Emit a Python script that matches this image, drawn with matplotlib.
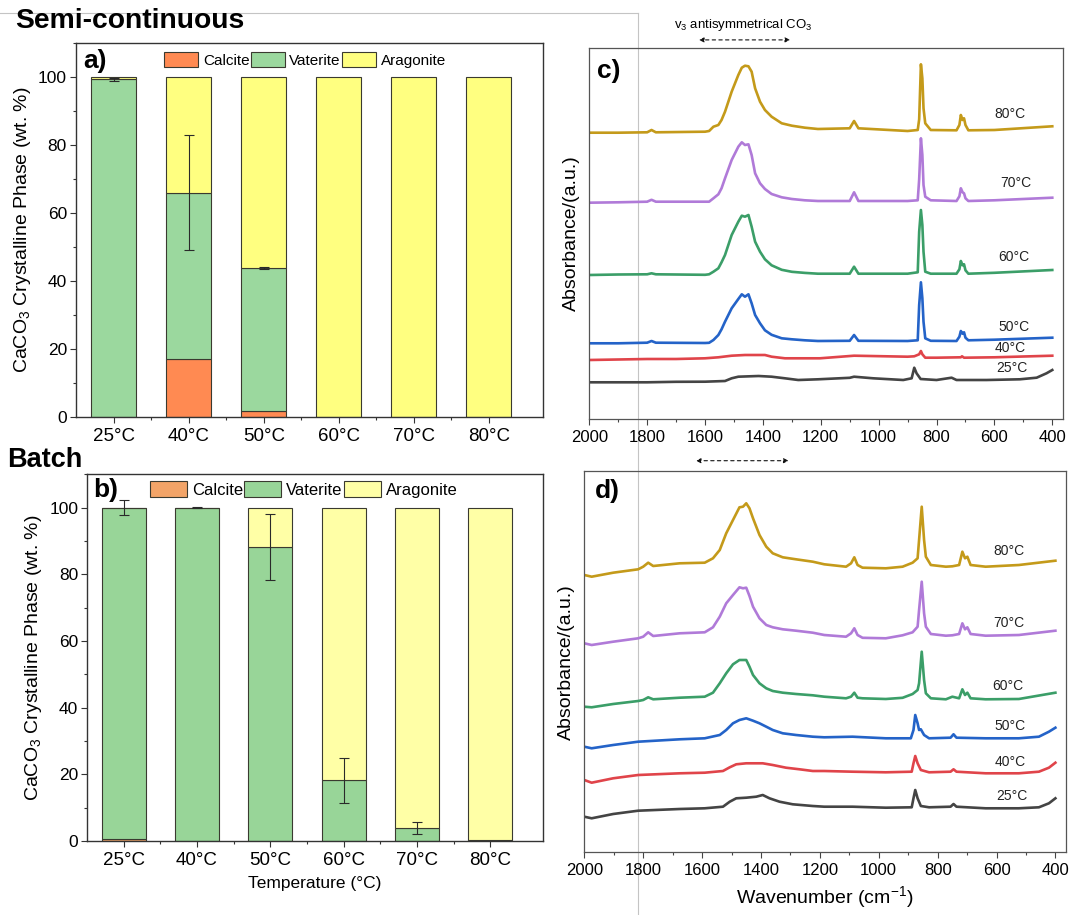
import matplotlib
matplotlib.use("Agg")
import matplotlib.pyplot as plt
from matplotlib.lines import Line2D
from matplotlib.patches import Patch
from matplotlib.ticker import MultipleLocator, FixedLocator

plt.rcParams['font.family'] = ['Liberation Sans', 'DejaVu Sans']
plt.rcParams['mathtext.default'] = 'regular'

# ---- bar data (wt. %) ----
temps = ['25°C', '40°C', '50°C', '60°C', '70°C', '80°C']
phases = ['Calcite', 'Vaterite', 'Aragonite']

semi_calcite = [0, 17, 1.8, 0, 0, 0]
semi_vaterite = [99.4, 49, 42, 0, 0, 0]
semi_aragonite = [0.6, 34, 56.2, 100, 100, 100]
semi_err = [0.5, 17, 0.3, 0, 0, 0]

batch_calcite = [0.5, 0, 0, 0, 0, 0]
batch_vaterite = [99.5, 100, 88.2, 18.2, 4, 0.3]
batch_aragonite = [0, 0, 11.8, 81.8, 96, 99.7]
batch_err = [2.3, 0.2, 10, 6.8, 1.8, 0]

# ---- FTIR spectra, semi-continuous (c) ----
wn_c_hi = [2000, 1900, 1800, 1785, 1770, 1600, 1586, 1571, 1554, 1543, 1531,
           1508, 1485, 1473, 1462, 1450, 1439, 1427, 1410, 1393, 1370, 1335,
           1300, 1255, 1210, 1100, 1085, 1070, 900, 865, 860, 854, 849, 845,
           839, 820, 731, 721, 716, 710, 705, 700, 690, 600, 400]
ab_c50 = [76, 76, 76.6, 78.3, 76.6, 76.3, 76.5, 79.3, 84.3, 90, 97.6, 111,
          120.3, 125, 122.6, 125, 116, 104.3, 96, 89, 84.5, 81, 80, 79, 78.3,
          78.5, 84.3, 78.5, 78.3, 79, 114.3, 137, 121, 97.6, 81, 78.5, 78.3,
          82.6, 88.3, 85.6, 87, 81.6, 79, 79.6, 81.6]
ab_c60 = [144.3, 144.8, 145, 146, 145, 144.5, 145, 147.6, 151, 157, 164.3,
          184.3, 197.6, 203.6, 202.6, 204.3, 192.6, 177.6, 167.6, 160, 154,
          149.5, 147.5, 146.4, 145.6, 145.6, 152.6, 145.6, 145.6, 147, 187.6,
          209.3, 194.3, 167.6, 147.6, 145.6, 145.6, 150, 158.3, 154, 155, 149,
          145.6, 146.5, 149.3]
ab_c70 = [216.6, 217, 217.6, 219.5, 217.6, 217.6, 217.6, 221, 225, 231, 241,
          259.3, 272.6, 277, 274.3, 275, 264.3, 246, 236, 230.3, 225.3, 222,
          220.3, 219, 218.3, 218.3, 227, 218.3, 218.3, 219, 240, 281, 264.3,
          234.3, 222.6, 219, 218.3, 223, 231, 227, 226, 221, 218.3, 219, 221.6]
ab_c80 = [286.6, 286.6, 287, 289.3, 287, 287.6, 288.3, 292.6, 294.3, 299.3,
          307.6, 327.6, 344.3, 351.6, 353.6, 353, 347.6, 331, 317.6, 309.3,
          302.6, 296, 293.6, 291.6, 290.3, 291, 298.3, 291, 288.3, 289.3, 300,
          355, 341, 311, 296, 289.3, 289, 294.3, 304.3, 299.3, 301, 294.3, 289,
          289.3, 293]
wn_c25 = [2000, 1900, 1800, 1700, 1600, 1531, 1508, 1485, 1415, 1370, 1324,
          1278, 1209, 1100, 1085, 1019, 915, 886, 877, 869, 855, 800, 748, 731,
          627, 512, 454, 420, 400]
ab_c25 = [37, 37, 37, 37.5, 37.6, 38.3, 41, 42.6, 43.3, 42.6, 41, 39.3, 40,
          41.5, 42.6, 41, 39.3, 41, 51.6, 46, 40.3, 39.3, 41.6, 39.3, 39.3, 40,
          41.6, 46, 49.3]
wn_c40 = [2000, 1800, 1700, 1600, 1554, 1508, 1462, 1393, 1370, 1324, 1266,
          1203, 1085, 900, 877, 860, 854, 849, 839, 800, 716, 712, 705, 600, 400]
ab_c40 = [59.3, 60.3, 60.3, 61, 62, 63.6, 64.3, 64.3, 62.6, 61, 61, 61, 63.6,
          62.6, 63, 65, 68.3, 65, 61.6, 61.6, 62, 63, 61.6, 62, 63.6]

# ---- FTIR spectra, batch (d) ----
wn_d_hi = [2000, 1975, 1902, 1817, 1800, 1783, 1766, 1676, 1591, 1563, 1540,
           1518, 1495, 1473, 1461, 1450, 1439, 1427, 1405, 1382, 1360, 1326,
           1281, 1224, 1185, 1111, 1094, 1083, 1072, 1055, 976, 919, 885, 868,
           863, 854, 846, 840, 823, 772, 750, 727, 716, 707, 699, 688, 637, 524,
           400]
ab_d60 = [145.6, 145, 148.3, 151.3, 152.3, 155, 153, 154.6, 155.6, 159.6, 169,
          179, 188, 192.3, 192.3, 192.3, 185.6, 177.3, 169, 164, 161.3, 159.6,
          158.3, 157, 155.6, 154, 155.6, 159.6, 154.6, 154, 153.3, 154.5, 158.3,
          162.3, 169, 200.6, 172.3, 159, 154, 153, 155.6, 154, 163, 157.3,
          159.6, 154, 153, 153.3, 159.6]
ab_d70 = [209, 207.3, 210.6, 214, 215.6, 220, 216.3, 219, 220, 225, 235.6, 249,
          257.3, 265, 264, 264.6, 256.3, 245.6, 234, 227.3, 225, 223, 221.6,
          219.6, 217.3, 215.6, 219, 224, 217.3, 214.5, 214, 217, 220, 225.6,
          242.3, 270.6, 239, 225.6, 218.3, 216.6, 217, 218.3, 229, 223, 225,
          218.3, 216.6, 217.3, 221.6]
ab_d80 = [277.3, 275.6, 279.6, 283, 285.6, 289.6, 286.3, 289, 289.6, 294,
          302.3, 319, 332.3, 345, 345.6, 349, 344, 334, 317.3, 305.6, 299, 295,
          293, 290.6, 288, 285.6, 289, 295, 287.3, 284.6, 284, 285.6, 289.6,
          294, 312.3, 345.6, 312.3, 295.6, 287.3, 285.6, 286, 287.3, 300.6, 294,
          295.6, 287.3, 285.6, 287.3, 291.6]
wn_d50 = [2000, 1975, 1902, 1817, 1676, 1591, 1540, 1518, 1495, 1473, 1450,
          1427, 1405, 1382, 1360, 1326, 1281, 1224, 1185, 1089, 976, 891, 882,
          876, 868, 863, 857, 846, 829, 756, 746, 736, 637, 524, 456, 422, 400]
ab_d50 = [105.6, 104, 107.3, 110.6, 113, 114, 117.3, 122.3, 129, 132.3, 134,
          131.6, 129, 125.6, 122.3, 119, 117.3, 115.6, 115, 115.6, 114, 114,
          122.3, 137.3, 129, 122.3, 123, 117.3, 114, 114.6, 118, 114.6, 114,
          114, 115.6, 120.6, 124.6]
wn_d40 = [2000, 1975, 1902, 1817, 1676, 1591, 1529, 1506, 1484, 1450, 1394,
          1360, 1315, 1269, 1224, 1185, 1089, 976, 888, 882, 876, 868, 857, 829,
          756, 746, 736, 637, 524, 456, 422, 400]
ab_d40 = [72.3, 69.6, 74, 77.3, 79, 79.6, 81.3, 85, 88, 89, 89, 87.3, 84.6, 83,
          81.3, 81.3, 80.6, 80, 80.6, 89, 96.3, 89, 82.3, 80, 80.6, 83, 80.6,
          79, 79, 80.6, 84.6, 89.6]
wn_d25 = [2000, 1975, 1902, 1817, 1676, 1591, 1529, 1506, 1484, 1450, 1416,
          1394, 1371, 1337, 1292, 1224, 1185, 1089, 976, 888, 882, 876, 868,
          857, 829, 756, 746, 736, 637, 524, 456, 422, 400]
ab_d25 = [35.6, 34, 38.3, 41.6, 43.3, 44, 45.6, 50.6, 54, 54.6, 55.6, 57.3, 54,
          50.6, 48, 46.3, 45.6, 45.6, 44.6, 45, 54, 62.3, 54, 46.3, 45, 45.6,
          48.3, 45.6, 44, 44, 45, 49, 54]

spec_colors = ['#444444', '#E0444A', '#2463C8', '#3B9E68', '#B07AD8', '#C49A1A']

# label anchor points (wavenumber, a.u.)
label_pos_c = [(539, 51), (546, 71), (534, 92), (532, 162), (526, 236), (546, 305)]
label_pos_d = [(549, 56), (555, 90), (555, 126), (561, 166), (558, 229), (558, 301)]


def plot_bars(ax, calcite, vaterite, aragonite, err, colors, legend_fs,
              legend_anchor, handle_len, handle_h):
    x = list(range(len(temps)))
    edge = dict(edgecolor='#3a3a30', linewidth=0.8, width=0.6)
    ax.bar(x, calcite, color=colors[0], **edge)
    ax.bar(x, vaterite, bottom=calcite, color=colors[1], **edge)
    tops = [c + v for c, v in zip(calcite, vaterite)]
    ax.bar(x, aragonite, bottom=tops, color=colors[2], **edge)
    idx = [i for i in x if err[i] > 0]
    ax.errorbar([x[i] for i in idx], [tops[i] for i in idx],
                yerr=[err[i] for i in idx], fmt='none', ecolor='#2a2a2a',
                elinewidth=0.8, capsize=3.5, capthick=0.8)
    ax.set_ylim(0, 110)
    ax.set_xticks(x)
    ax.set_xticklabels(temps, fontsize=13.5)
    ax.xaxis.set_minor_locator(FixedLocator([0.5, 1.5, 2.5, 3.5, 4.5]))
    ax.set_yticks([0, 20, 40, 60, 80, 100])
    ax.yaxis.set_minor_locator(MultipleLocator(10))
    ax.tick_params(axis='y', labelsize=12.5, pad=2.5)
    ax.tick_params(axis='x', pad=4.2)
    ax.tick_params(which='major', direction='out', length=4, width=0.8,
                   color='#333333')
    ax.tick_params(which='minor', direction='out', length=2.5, width=0.8,
                   color='#333333')
    for s in ax.spines.values():
        s.set_color('#333333')
        s.set_linewidth(1.0)
    ax.set_ylabel('CaCO$_3$ Crystalline Phase (wt. %)', fontsize=14, labelpad=3.6)
    handles = [Patch(facecolor=c, edgecolor='#3a3a30', linewidth=0.8)
               for c in colors]
    ax.legend(handles, phases, loc='center left', bbox_to_anchor=legend_anchor,
              ncol=3, frameon=False, fontsize=legend_fs, borderpad=0,
              borderaxespad=0, handlelength=handle_len, handleheight=handle_h,
              handletextpad=0.3, columnspacing=0.1)


def plot_spectra(ax, curves, label_pos, arrow_y):
    ax.set_facecolor('none')
    for (wn, ab), col, lab, pos in zip(curves, spec_colors, temps, label_pos):
        ax.plot(wn, ab, color=col, linewidth=1.9, solid_joinstyle='round')
        ax.text(pos[0], pos[1], lab, fontsize=10, ha='center', va='center',
                color='#222222')
    ax.set_xlim(2000, 364)
    ax.set_xticks(range(2000, 399, -200))
    ax.xaxis.set_minor_locator(MultipleLocator(100))
    ax.set_yticks([])
    ax.tick_params(axis='x', labelsize=12, pad=4)
    ax.tick_params(which='major', direction='out', length=4, width=0.8,
                   color='#444444')
    ax.tick_params(which='minor', direction='out', length=2.5, width=0.8,
                   color='#444444')
    for s in ax.spines.values():
        s.set_color('#555555')
        s.set_linewidth(0.9)
    ax.set_ylabel('Absorbance/(a.u.)', fontsize=14, labelpad=7)
    ax.annotate('', xy=(1621, arrow_y), xytext=(1306, arrow_y),
                xycoords=('data', 'axes fraction'),
                textcoords=('data', 'axes fraction'),
                arrowprops=dict(arrowstyle='<|-|>', linestyle=(0, (3, 3)),
                                linewidth=0.8, color='#111111',
                                mutation_scale=7, shrinkA=0, shrinkB=0),
                annotation_clip=False)


def main():
    fig = plt.figure(figsize=(10.71, 9.15), dpi=100)
    W, H = 1071.0, 915.0

    def box(l, r, t, b):
        return [l / W, 1 - b / H, (r - l) / W, (b - t) / H]

    ax_a = fig.add_axes(box(76, 543, 43.3, 416.7))
    ax_b = fig.add_axes(box(87.3, 543, 474.3, 841))
    ax_c = fig.add_axes(box(589.3, 1062.7, 47.7, 419.3))
    ax_d = fig.add_axes(box(584.3, 1066, 471, 852.3))

    # thin grey frame left over in the screenshot
    fig.add_artist(Line2D([0, 637.5 / W], [1 - 12.7 / H, 1 - 12.7 / H],
                          color='#c4c4c4', linewidth=0.8, zorder=-5))
    fig.add_artist(Line2D([637.5 / W, 637.5 / W], [0, 1 - 12.7 / H],
                          color='#c4c4c4', linewidth=0.8, zorder=-5))

    plot_bars(ax_a, semi_calcite, semi_vaterite, semi_aragonite, semi_err,
              ['#FF8A52', '#9BD89E', '#FFFF80'], 11, (0.189, 0.9545), 2.22, 1.13)
    ax_a.set_xlim(-0.503, 5.72)
    plot_bars(ax_b, batch_calcite, batch_vaterite, batch_aragonite, batch_err,
              ['#F2A468', '#98D598', '#FFFFA6'], 12, (0.1376, 0.9586), 2.2, 1.14)
    ax_b.set_xlim(-0.497, 5.72)
    ax_b.set_xlabel('Temperature (°C)', fontsize=12.5, labelpad=5)

    plot_spectra(ax_c, [(wn_c25, ab_c25), (wn_c40, ab_c40), (wn_c_hi, ab_c50),
                        (wn_c_hi, ab_c60), (wn_c_hi, ab_c70), (wn_c_hi, ab_c80)],
                 label_pos_c, 1.021)
    ax_c.set_ylim(0, 371.6)
    ax_c.text(1469, 1.061, 'v$_3$ antisymmetrical CO$_3$', fontsize=9.5,
              ha='center', va='center', transform=ax_c.get_xaxis_transform())

    plot_spectra(ax_d, [(wn_d25, ab_d25), (wn_d40, ab_d40), (wn_d50, ab_d50),
                        (wn_d_hi, ab_d60), (wn_d_hi, ab_d70), (wn_d_hi, ab_d80)],
                 label_pos_d, 1.027)
    ax_d.set_ylim(0, 381.3)
    ax_d.set_xlabel('Wavenumber (cm$^{-1}$)', fontsize=14, labelpad=4)

    for ax, lab, px, py in [(ax_a, 'a)', 0.0156, 0.933), (ax_b, 'b)', 0.013, 0.939),
                            (ax_c, 'c)', 0.0156, 0.918), (ax_d, 'd)', 0.022, 0.928)]:
        ax.text(px, py, lab, transform=ax.transAxes, fontsize=19,
                fontweight='bold', va='baseline', ha='left')

    fig.text(15 / W, 1 - 28.3 / H, 'Semi-continuous', fontsize=20.3,
             fontweight='bold', va='baseline', ha='left')
    fig.text(7.3 / W, 1 - 466.7 / H, 'Batch', fontsize=19.5,
             fontweight='bold', va='baseline', ha='left')

    fig.savefig('out.png', dpi=100)


if __name__ == "__main__":
    main()
